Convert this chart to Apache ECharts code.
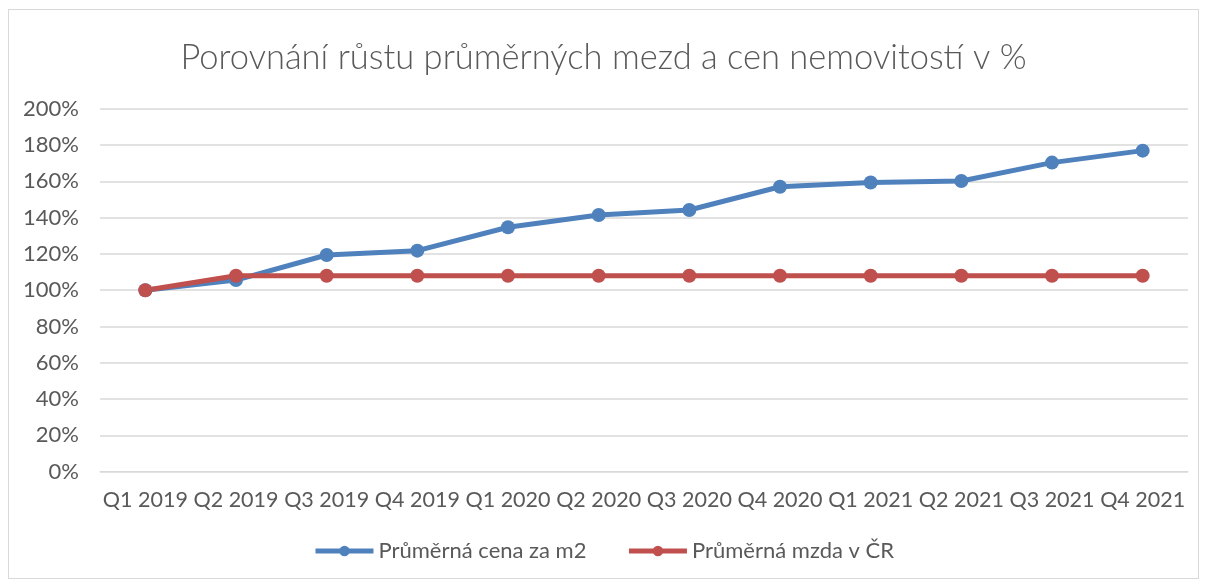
<!DOCTYPE html>
<html><head><meta charset="utf-8">
<script src="https://cdn.jsdelivr.net/npm/echarts@6/dist/echarts.min.js"></script>
<style>
html,body{margin:0;padding:0;background:#fff;}
#frame{position:absolute;left:8px;top:9px;width:1191px;height:570px;border:1px solid #d9d9d9;box-sizing:border-box;}
#c{position:absolute;left:0;top:0;width:1207px;height:588px;}
</style></head>
<body><div id="frame"></div><div id="c"></div>
<script>
const categories = ['Q1 2019','Q2 2019','Q3 2019','Q4 2019','Q1 2020','Q2 2020','Q3 2020','Q4 2020','Q1 2021','Q2 2021','Q3 2021','Q4 2021'];
const cenaM2 = [100, 105.6, 119.4, 121.8, 134.7, 141.4, 144.2, 157.0, 159.3, 160.2, 170.3, 176.9];
const mzda = [100, 108, 108, 108, 108, 108, 108, 108, 108, 108, 108, 108];
const seriesNames = ['Průměrná cena za m2', 'Průměrná mzda v ČR'];
const titleText = 'Porovnání růstu průměrných mezd a cen nemovitostí v %';

const chart = echarts.init(document.getElementById('c'), null, {renderer:'canvas'});
chart.setOption({
  animation:false,
  backgroundColor:'transparent',
  title:{text:titleText,left:'center',top:35,textStyle:{fontFamily:'Lato',fontSize:34.5,fontWeight:300,color:'#595959'}},
  grid:{left:100,right:19,top:108.7,bottom:116.3,containLabel:false},
  legend:{bottom:21,left:'center',itemWidth:58,itemHeight:13,itemGap:40,
    lineStyle:{width:5},
    textStyle:{fontFamily:'Lato',fontSize:22,color:'#595959'},
    data:seriesNames},
  xAxis:{type:'category',data:categories,boundaryGap:true,
    axisLine:{show:true,lineStyle:{color:'#d9d9d9',width:1}},axisTick:{show:false},
    axisLabel:{fontFamily:'Lato',fontSize:21.5,color:'#595959',margin:17,interval:0}},
  yAxis:{type:'value',min:0,max:200,interval:20,
    axisLine:{show:false},axisTick:{show:false},
    splitLine:{lineStyle:{color:'#d9d9d9',width:1.5}},
    axisLabel:{fontFamily:'Lato',fontSize:22,color:'#595959',margin:21,formatter:v=>v+'%'}},
  series:[
    {name:seriesNames[0],type:'line',data:cenaM2,color:'#4F81BD',lineStyle:{width:5,color:'#4F81BD'},
     symbol:'circle',symbolSize:14,itemStyle:{color:'#4F81BD'}},
    {name:seriesNames[1],type:'line',data:mzda,color:'#C0504D',lineStyle:{width:5,color:'#C0504D'},
     symbol:'circle',symbolSize:14,itemStyle:{color:'#C0504D'}}
  ]
});
</script></body></html>
